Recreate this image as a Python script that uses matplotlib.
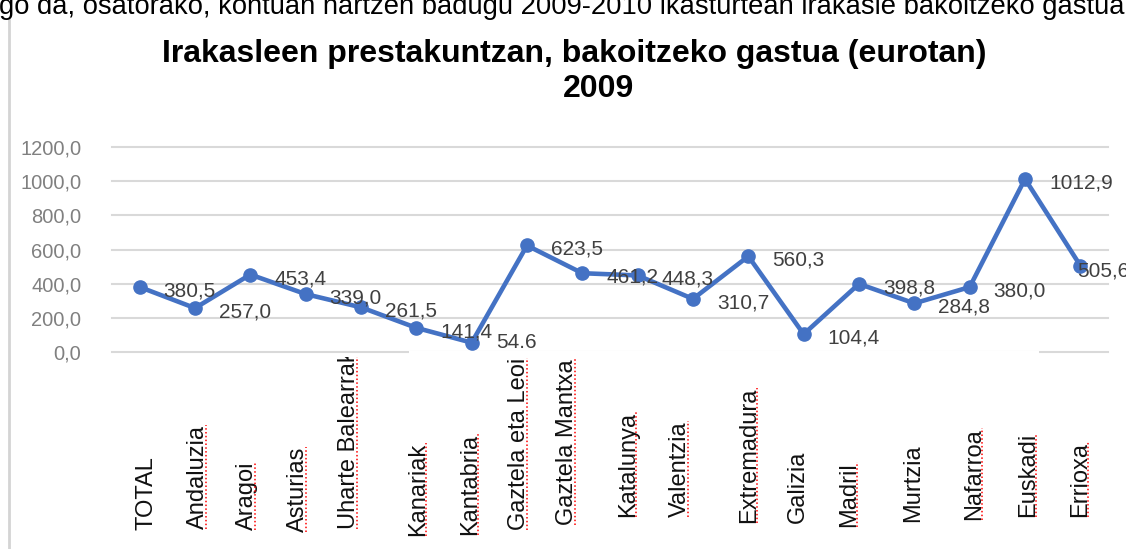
import matplotlib

matplotlib.use("Agg")
import matplotlib.pyplot as plt
from matplotlib.lines import Line2D
from matplotlib.patches import Rectangle
from matplotlib.transforms import Bbox, TransformedBbox, blended_transform_factory, offset_copy

W, H, DPI = 1126, 549, 100

# data
regions = [
    "TOTAL", "Andaluzia", "Aragoi", "Asturias", "Uharte Balearrak", "Kanariak",
    "Kantabria", "Gaztela eta Leoi", "Gaztela Mantxa", "Katalunya", "Valentzia",
    "Extremadura", "Galizia", "Madril", "Murtzia", "Nafarroa", "Euskadi", "Errioxa",
]
spend = [380.5, 257.0, 453.4, 339.0, 261.5, 141.4, 54.6, 623.5, 461.2, 448.3,
         310.7, 560.3, 104.4, 398.8, 284.8, 380.0, 1012.9, 505.6]
yticks = [0, 200, 400, 600, 800, 1000, 1200]
ytick_labels = ["0,0", "200,0", "400,0", "600,0", "800,0", "1000,0", "1200,0"]
point_decimal = {6}  # Kantabria label is written "54.6" in the original

TITLE = "Irakasleen prestakuntzan, bakoitzeko gastua (eurotan)"
YEAR = "2009"
TOP_LINE = "go da, osatorako, kontuan hartzen badugu 2009-2010 ikasturtean irakasle bakoitzeko gastua"

# layout tweaks (pixels)
label_offsets = [(24, -4)] * 18
label_offsets[6] = (24, 0)
label_offsets[17] = (-3, -5)
cat_dx = [7, 3, -3, -8, -12, 2, -2, -8, -15, -10, -13, 1, -6, -10, -1, 4, 3, 0]
cat_bottom = [530, 529, 530, 532, 529, 536, 535, 530, 525, 517, 517, 523, 523, 527, 522, 520, 517, 517]
squiggle = [False, True, True, True, True, True, True, True, True, True, True, True,
            False, True, False, True, True, True]
BLUE = "#4472C4"

plt.rcParams["font.family"] = ["Liberation Sans", "DejaVu Sans"]


def fx(x):
    return x / W


def fy(y):
    return 1 - y / H


fig = plt.figure(figsize=(W / DPI, H / DPI), dpi=DPI)
fig.patch.set_facecolor("white")

ax = fig.add_axes([fx(112), fy(352), fx(1108) - fx(112), fy(147) - fy(352)])
xs = list(range(len(regions)))
ax.plot(xs, spend, color=BLUE, lw=3.3, marker="o", ms=9.5, zorder=3, clip_on=False)
ax.set_xlim(-0.5, len(regions) - 0.5)
ax.set_ylim(0, 1200)
ax.set_xticks([])
ax.set_yticks(yticks, ytick_labels)
for v in yticks:
    ax.axhline(v, color="#d9d9d9", lw=1.5, zorder=0.5, clip_on=False)
for s in ax.spines.values():
    s.set_visible(False)
ax.tick_params(axis="y", length=0, pad=22, labelsize=14.5, labelcolor="#808080")

for i, v in enumerate(spend):
    lab = f"{v:.1f}"
    if i not in point_decimal:
        lab = lab.replace(".", ",")
    dx, dy = label_offsets[i]
    ax.annotate(lab, (i, v), xytext=(dx, dy), textcoords="offset pixels",
                ha="left", va="center", fontsize=15, color="#404040",
                annotation_clip=False, zorder=4)

# titles
fig.text(fx(574), fy(62), TITLE, ha="center", va="baseline", fontsize=23,
         fontweight="bold", color="black")
fig.text(fx(598), fy(97), YEAR, ha="center", va="baseline", fontsize=23,
         fontweight="bold", color="black")
fig.text(fx(-1), fy(14), TOP_LINE, ha="left", va="baseline", fontsize=19.7, color="black")

# chart frame on the left
fig.add_artist(Line2D([fx(9), fx(9)], [fy(20), 0], color="#d4d4d4", lw=2,
                      transform=fig.transFigure))

# white label box that hides part of the zero line
fig.add_artist(Rectangle((fx(409), 0), fx(1039) - fx(409), fy(351.2), facecolor="white",
                         edgecolor="none", transform=fig.transFigure, zorder=5))

# category labels
blend = blended_transform_factory(ax.transData, fig.transFigure)
texts = []
for i, name in enumerate(regions):
    t = fig.text(i, fy(cat_bottom[i]), name, rotation=90, ha="center", va="bottom",
                 fontsize=17, color="#111111",
                 transform=offset_copy(blend, fig=fig, x=cat_dx[i], units="dots"),
                 zorder=6)
    if name == "Uharte Balearrak":
        t.set_clip_box(TransformedBbox(Bbox.from_extents(0, 0, 1, fy(357)), fig.transFigure))
        t.set_clip_on(True)
    texts.append(t)

fig.canvas.draw()
renderer = fig.canvas.get_renderer()
for t, sq in zip(texts, squiggle):
    if not sq:
        continue
    bb = t.get_window_extent(renderer)
    xc = (bb.x0 + bb.x1) / 2 + 8
    top = min(bb.y1, fy(357) * H) if t.get_text() == "Uharte Balearrak" else bb.y1
    fig.add_artist(Line2D([xc / W, xc / W], [bb.y0 / H, top / H], color="red", lw=1.1,
                          linestyle=(0, (1, 1.5)), transform=fig.transFigure, zorder=7))

fig.savefig("out.png", dpi=DPI)
